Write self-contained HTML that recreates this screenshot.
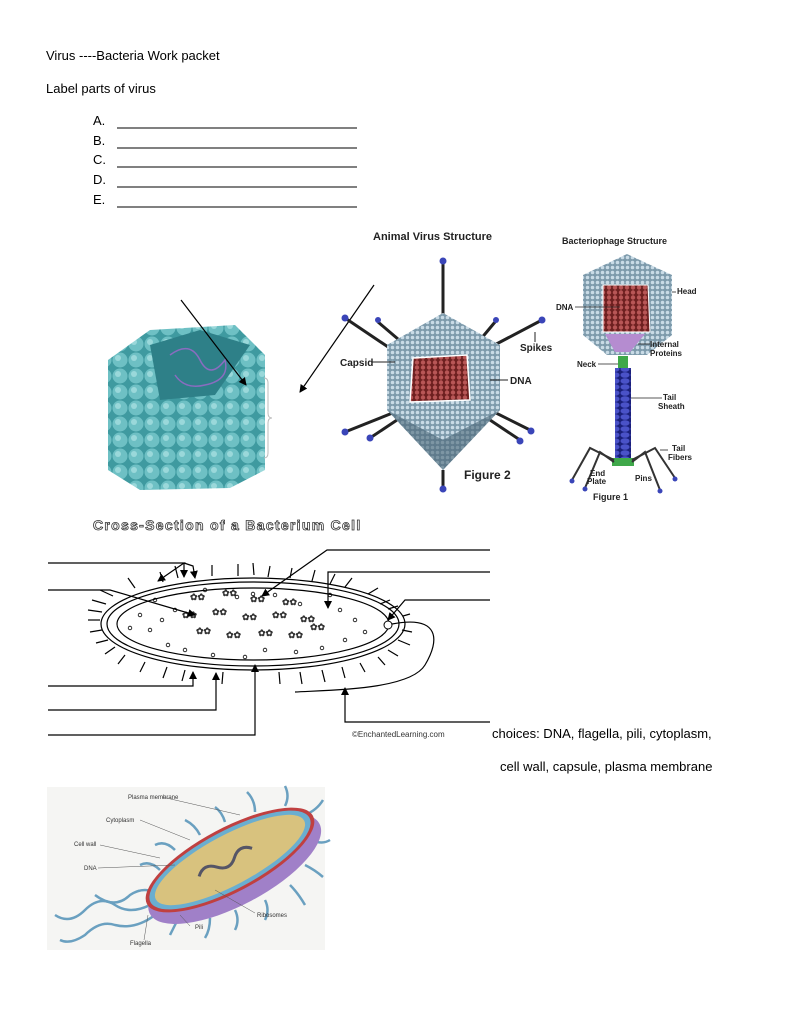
<!DOCTYPE html>
<html><head><meta charset="utf-8"><style>
html,body{margin:0;padding:0;background:#fff;}
svg{display:block}
text{font-family:"Liberation Sans",sans-serif}
</style></head><body>
<svg width="791" height="1024" viewBox="0 0 791 1024" xmlns="http://www.w3.org/2000/svg">
<defs>
<marker id="ah" markerWidth="8" markerHeight="8" refX="7" refY="4" orient="auto" markerUnits="userSpaceOnUse"><path d="M0,0 L8,4 L0,8 z" fill="#000"/></marker>
<pattern id="dots" width="5" height="5" patternUnits="userSpaceOnUse"><rect width="5" height="5" fill="#7d9aab"/><circle cx="2.5" cy="2.5" r="1.8" fill="#c9dbe6"/></pattern>
<pattern id="red" width="6" height="5" patternUnits="userSpaceOnUse"><rect width="6" height="5" fill="#6e2020"/><circle cx="3" cy="2.5" r="2.2" fill="#b85656"/></pattern>
<pattern id="blue" width="10" height="6" patternUnits="userSpaceOnUse"><rect width="10" height="6" fill="#1a1f7a"/><ellipse cx="5" cy="3" rx="4.5" ry="2.8" fill="#4a52c8"/></pattern>
<pattern id="teal" width="16" height="16" patternUnits="userSpaceOnUse"><rect width="16" height="16" fill="#3f9aa0"/><circle cx="8" cy="8" r="7.5" fill="#6ec0c4"/><circle cx="6" cy="6" r="3" fill="#9ad8da"/></pattern>
</defs>

<g font-size="13" fill="#000">
<text x="46" y="60">Virus  ----Bacteria Work packet</text>
<text x="46" y="93">Label parts of virus</text>
<text x="93" y="125">A.</text><text x="93" y="145">B.</text><text x="93" y="164">C.</text><text x="93" y="184">D.</text><text x="93" y="204">E.</text>
</g>
<g stroke="#000" stroke-width="1">
<line x1="117" y1="128" x2="357" y2="128"/><line x1="117" y1="148" x2="357" y2="148"/><line x1="117" y1="167" x2="357" y2="167"/><line x1="117" y1="187" x2="357" y2="187"/><line x1="117" y1="207" x2="357" y2="207"/>
</g>

<polygon points="108,360 150,330 235,325 265,355 265,470 230,488 140,490 108,470" fill="url(#teal)"/>
<polygon points="150,345 200,330 250,345 215,395 160,400" fill="#2e8088"/>
<path d="M170,355 q20,-15 30,5 q10,20 25,0 q5,20 -20,25 q-20,5 -30,-10" stroke="#8a6cc0" fill="none" stroke-width="1.5"/>
<path d="M264,378 q4,0 4,5 v30 q0,5 4,5 q-4,0 -4,5 v30 q0,5 -4,5" stroke="#bbb" fill="none"/>
<line x1="181" y1="300" x2="246" y2="385" stroke="#000" stroke-width="1.2" marker-end="url(#ah)"/>
<line x1="374" y1="285" x2="300" y2="392" stroke="#000" stroke-width="1.2" marker-end="url(#ah)"/>

<text x="373" y="240" font-size="11" font-weight="bold" fill="#222">Animal Virus Structure</text>
<g stroke="#222" stroke-width="3">
<line x1="443" y1="262" x2="443" y2="325"/><line x1="443" y1="470" x2="443" y2="488"/>
<line x1="345" y1="318" x2="400" y2="355"/><line x1="378" y1="322" x2="405" y2="345"/>
<line x1="542" y1="320" x2="485" y2="350"/><line x1="495" y1="322" x2="480" y2="340"/>
<line x1="345" y1="432" x2="400" y2="410"/><line x1="370" y1="438" x2="400" y2="418"/>
<line x1="530" y1="430" x2="490" y2="410"/><line x1="520" y1="440" x2="490" y2="420"/>
</g>
<g fill="#3a45b8">
<circle cx="443" cy="261" r="3.5"/><circle cx="443" cy="489" r="3.5"/><circle cx="345" cy="318" r="3.5"/><circle cx="378" cy="320" r="3"/><circle cx="542" cy="320" r="3.5"/><circle cx="496" cy="320" r="3"/><circle cx="345" cy="432" r="3.5"/><circle cx="370" cy="438" r="3.5"/><circle cx="531" cy="431" r="3.5"/><circle cx="520" cy="441" r="3.5"/><circle cx="443" cy="318" r="3"/>
</g>
<polygon points="443,313 500,345 500,410 443,470 387,410 387,345" fill="url(#dots)"/>
<polygon points="443,440 500,410 443,470 387,410" fill="#4b6778" opacity="0.6"/>
<polygon points="413,358 467,355 470,400 410,402" fill="url(#red)" stroke="#fff" stroke-width="1.5"/>
<g stroke="#222" stroke-width="1"><line x1="372" y1="362" x2="395" y2="362"/><line x1="490" y1="380" x2="508" y2="380"/><line x1="535" y1="342" x2="535" y2="332"/></g>
<g font-size="10" font-weight="bold" fill="#222">
<text x="340" y="366">Capsid</text><text x="510" y="384">DNA</text><text x="520" y="351">Spikes</text>
<text x="464" y="479" font-size="12">Figure 2</text>
</g>

<text x="562" y="244" font-size="9" font-weight="bold" fill="#222">Bacteriophage Structure</text>
<polygon points="627,254 672,275 672,335 647,355 607,355 583,335 583,275" fill="url(#dots)"/>
<polygon points="603,285 648,285 650,332 603,332" fill="url(#red)" stroke="#fff"/>
<polygon points="605,334 645,334 630,352 615,352" fill="#b58cd0"/>
<rect x="618" y="356" width="10" height="12" fill="#3fa84a"/>
<rect x="615" y="368" width="16" height="92" fill="url(#blue)"/>
<rect x="612" y="458" width="22" height="8" fill="#3fa84a"/>
<g stroke="#333" stroke-width="2" fill="none">
<path d="M614,460 L590,448 L572,480"/><path d="M614,462 L600,452 L585,488"/><path d="M632,460 L655,448 L675,478"/><path d="M632,462 L645,452 L660,490"/>
</g>
<g fill="#3a45b8"><circle cx="572" cy="481" r="2.5"/><circle cx="585" cy="489" r="2.5"/><circle cx="675" cy="479" r="2.5"/><circle cx="660" cy="491" r="2.5"/></g>
<g font-size="8" font-weight="bold" fill="#222">
<text x="677" y="294">Head</text><text x="556" y="310">DNA</text><text x="650" y="347">Internal</text><text x="650" y="356">Proteins</text>
<text x="577" y="367">Neck</text><text x="663" y="400">Tail</text><text x="658" y="409">Sheath</text>
<text x="672" y="451">Tail</text><text x="668" y="460">Fibers</text><text x="590" y="476">End</text><text x="587" y="484">Plate</text><text x="635" y="481">Pins</text>
<text x="593" y="500" font-size="9">Figure 1</text>
</g>
<g stroke="#222" stroke-width="0.8"><line x1="672" y1="292" x2="676" y2="292"/><line x1="575" y1="307" x2="620" y2="307"/><line x1="638" y1="344" x2="650" y2="344"/><line x1="598" y1="364" x2="618" y2="364"/><line x1="631" y1="398" x2="662" y2="398"/><line x1="660" y1="450" x2="668" y2="450"/></g>

<text x="93" y="530" font-size="14" font-weight="bold" fill="#fff" stroke="#333" stroke-width="0.8" letter-spacing="1.3">Cross-Section of a Bacterium Cell</text>
<g stroke="#000" fill="none" stroke-width="1.2">
<ellipse cx="253" cy="624" rx="152" ry="46"/>
<ellipse cx="253" cy="624" rx="146" ry="42"/>
<ellipse cx="253" cy="624" rx="136" ry="36"/>
</g>
<g stroke="#000" stroke-width="1.2">
<line x1="88" y1="620" x2="100" y2="620"/><line x1="88" y1="610" x2="102" y2="612"/><line x1="90" y1="632" x2="102" y2="630"/><line x1="92" y1="600" x2="106" y2="604"/><line x1="96" y1="643" x2="108" y2="640"/>
<line x1="100" y1="590" x2="113" y2="596"/><line x1="105" y1="654" x2="115" y2="647"/><line x1="128" y1="578" x2="135" y2="588"/><line x1="118" y1="664" x2="125" y2="655"/>
<line x1="160" y1="572" x2="163" y2="582"/><line x1="175" y1="566" x2="178" y2="578"/><line x1="212" y1="565" x2="212" y2="576"/><line x1="238" y1="564" x2="238" y2="576"/><line x1="253" y1="563" x2="254" y2="575"/><line x1="270" y1="566" x2="268" y2="577"/><line x1="292" y1="568" x2="290" y2="578"/><line x1="315" y1="570" x2="312" y2="581"/><line x1="335" y1="574" x2="330" y2="584"/><line x1="352" y1="578" x2="345" y2="587"/>
<line x1="378" y1="588" x2="368" y2="594"/><line x1="390" y1="600" x2="380" y2="604"/><line x1="398" y1="606" x2="388" y2="609"/>
<line x1="410" y1="614" x2="403" y2="616"/><line x1="412" y1="632" x2="402" y2="630"/><line x1="410" y1="645" x2="398" y2="640"/><line x1="398" y1="656" x2="388" y2="650"/><line x1="385" y1="665" x2="378" y2="657"/>
<line x1="140" y1="672" x2="145" y2="662"/><line x1="163" y1="678" x2="167" y2="667"/><line x1="182" y1="681" x2="185" y2="670"/><line x1="222" y1="684" x2="223" y2="672"/><line x1="280" y1="684" x2="279" y2="672"/><line x1="302" y1="684" x2="300" y2="672"/><line x1="325" y1="682" x2="322" y2="670"/><line x1="345" y1="678" x2="342" y2="667"/><line x1="365" y1="672" x2="360" y2="663"/>
</g>
<g fill="#333" font-size="9" font-weight="bold">
<text x="190" y="600">✿✿</text><text x="222" y="596">✿✿</text><text x="250" y="602">✿✿</text><text x="282" y="605">✿✿</text>
<text x="182" y="618">✿✿</text><text x="212" y="615">✿✿</text><text x="242" y="620">✿✿</text><text x="272" y="618">✿✿</text><text x="300" y="622">✿✿</text>
<text x="196" y="634">✿✿</text><text x="226" y="638">✿✿</text><text x="258" y="636">✿✿</text><text x="288" y="638">✿✿</text><text x="310" y="630">✿✿</text>
</g>
<g fill="none" stroke="#000" stroke-width="0.8">
<circle cx="140" cy="615" r="1.8"/><circle cx="155" cy="600" r="1.8"/><circle cx="150" cy="630" r="1.8"/><circle cx="168" cy="645" r="1.8"/><circle cx="185" cy="650" r="1.8"/><circle cx="205" cy="590" r="1.8"/><circle cx="237" cy="597" r="1.8"/><circle cx="253" cy="594" r="1.8"/><circle cx="275" cy="595" r="1.8"/><circle cx="300" cy="604" r="1.8"/><circle cx="340" cy="610" r="1.8"/><circle cx="355" cy="620" r="1.8"/><circle cx="345" cy="640" r="1.8"/><circle cx="322" cy="648" r="1.8"/><circle cx="296" cy="652" r="1.8"/><circle cx="265" cy="650" r="1.8"/><circle cx="245" cy="657" r="1.8"/><circle cx="213" cy="655" r="1.8"/><circle cx="162" cy="620" r="1.8"/><circle cx="130" cy="628" r="1.8"/><circle cx="175" cy="610" r="1.8"/><circle cx="330" cy="595" r="1.8"/><circle cx="365" cy="632" r="1.8"/>
</g>
<circle cx="388" cy="625" r="4" fill="#fff" stroke="#000"/>
<path d="M392,624 C440,615 440,640 425,665 C410,690 330,690 295,692" fill="none" stroke="#000" stroke-width="1.2"/>
<g stroke="#000" stroke-width="1.2" fill="none">
<polyline points="48,563 184,563 158,581" marker-end="url(#ah)"/>
<line x1="184" y1="563" x2="184" y2="577" marker-end="url(#ah)"/>
<polyline points="184,563 193,566 195,578" marker-end="url(#ah)"/>
<polyline points="48,590 110,590 195,615" marker-end="url(#ah)"/>
<polyline points="490,550 327,550 262,596" marker-end="url(#ah)"/>
<polyline points="490,572 328,572 328,608" marker-end="url(#ah)"/>
<polyline points="490,600 405,600 388,620" marker-end="url(#ah)"/>
<polyline points="48,686 193,686 193,672" marker-end="url(#ah)"/>
<polyline points="48,710 216,710 216,673" marker-end="url(#ah)"/>
<polyline points="48,735 255,735 255,665" marker-end="url(#ah)"/>
<polyline points="490,722 345,722 345,688" marker-end="url(#ah)"/>
</g>
<text x="352" y="737" font-size="8" fill="#333">©EnchantedLearning.com</text>
<text x="492" y="738" font-size="13">choices:  DNA, flagella, pili, cytoplasm,</text>
<text x="500" y="771" font-size="13">cell wall, capsule, plasma membrane</text>

<rect x="47" y="787" width="278" height="163" fill="#f5f5f3"/>
<g fill="none" stroke="#6aa0c0" stroke-width="2.5">
<path d="M150,905 q-20,10 -35,0 q-15,-10 -30,5 q-15,15 -30,5"/>
<path d="M155,915 q-20,15 -40,10 q-15,-5 -30,10 q-15,10 -25,5"/>
<path d="M160,895 q-15,-10 -30,0 q-15,15 -35,0"/>
<path d="M160,870 q-10,-10 -20,-5"/><path d="M175,850 q-10,-10 -20,-5"/><path d="M200,835 q-5,-10 -15,-15"/><path d="M225,822 q-3,-10 -10,-15"/><path d="M255,812 q0,-12 -8,-20"/><path d="M285,806 q5,-10 0,-20"/><path d="M305,815 q12,-5 18,-15"/><path d="M312,840 q10,5 18,0"/><path d="M305,865 q10,5 18,12"/><path d="M290,885 q8,8 15,20"/><path d="M265,900 q5,10 0,20"/><path d="M235,910 q5,10 0,20"/><path d="M210,918 q0,12 -5,20"/><path d="M180,915 q-5,10 -10,20"/>
</g>
<g transform="rotate(-28 230 860)">
<ellipse cx="230" cy="870" rx="96" ry="36" fill="#a080c8"/>
<ellipse cx="230" cy="860" rx="94" ry="32" fill="#c04040"/>
<ellipse cx="230" cy="860" rx="90" ry="29" fill="#6aaed0"/>
<ellipse cx="230" cy="860" rx="84" ry="25" fill="#d8c27e"/>
<path d="M195,860 q10,-10 20,0 q10,10 20,0 q10,-10 20,0" fill="none" stroke="#556" stroke-width="3"/>
</g>
<g font-size="6" fill="#333" font-family="Liberation Serif, serif">
<text x="128" y="799">Plasma membrane</text><text x="106" y="822">Cytoplasm</text><text x="74" y="846">Cell wall</text><text x="84" y="870">DNA</text><text x="257" y="917">Ribosomes</text><text x="195" y="929">Pili</text><text x="130" y="945">Flagella</text>
</g>
<g stroke="#555" stroke-width="0.5"><line x1="162" y1="797" x2="240" y2="815"/><line x1="140" y1="820" x2="190" y2="840"/><line x1="100" y1="845" x2="160" y2="858"/><line x1="98" y1="868" x2="175" y2="865"/><line x1="255" y1="913" x2="215" y2="890"/><line x1="190" y1="926" x2="180" y2="915"/><line x1="144" y1="940" x2="148" y2="915"/></g>
</svg>
</body></html>
